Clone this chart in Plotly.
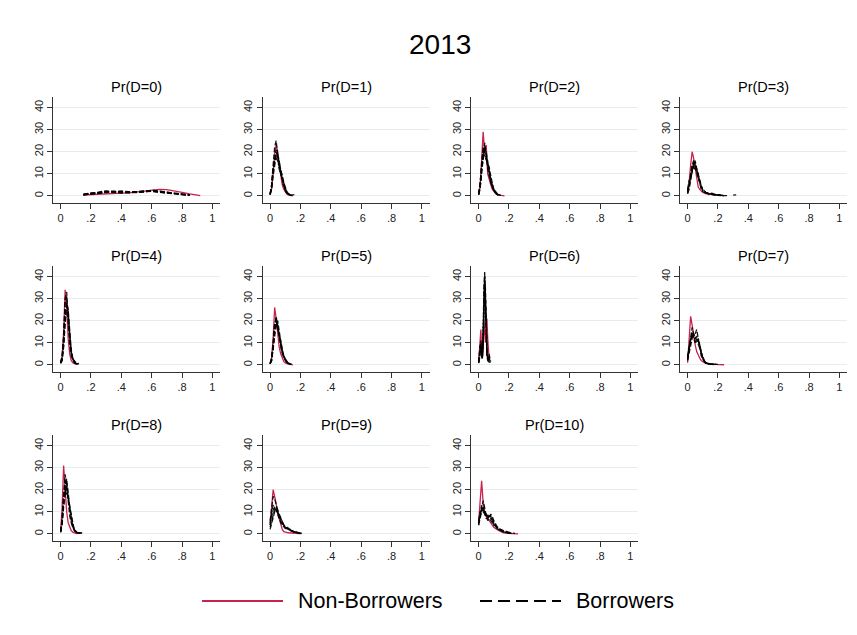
import plotly.graph_objects as go

# ---------------------------------------------------------------------------
# Kernel density estimates of predicted Pr(D=k), 2013
# One curve for non-borrowers, several (one per replicate) for borrowers.
# ---------------------------------------------------------------------------

PANEL_TITLES = ["Pr(D=0)", "Pr(D=1)", "Pr(D=2)", "Pr(D=3)", "Pr(D=4)", "Pr(D=5)",
                "Pr(D=6)", "Pr(D=7)", "Pr(D=8)", "Pr(D=9)", "Pr(D=10)"]

X_TICKS = [0, 0.2, 0.4, 0.6, 0.8, 1]
X_TICK_LABELS = ["0", ".2", ".4", ".6", ".8", "1"]
Y_TICKS = [0, 10, 20, 30, 40]

# D = 0
X_D0 = [0.15, 0.2, 0.25, 0.3, 0.35, 0.4, 0.45, 0.5, 0.55, 0.6, 0.65, 0.7, 0.75, 0.8, 0.85, 0.9, 0.92]
NB_D0 = [0.4, 0.5, 0.6, 0.8, 1.0, 1.2, 1.4, 1.7, 2.1, 2.6, 2.9, 2.8, 2.3, 1.6, 0.9, 0.3, 0.1]
B_D0 = [
    [0.6, 1.0, 1.5, 2.0, 1.8, 1.5, 1.6, 1.8, 2.0, 2.4, 2.1, 1.6, 1.1, 0.7, 0.4, None, None],
    [0.8, 1.3, 1.2, 1.6, 2.1, 1.9, 1.7, 1.6, 1.9, 2.2, 1.8, 1.3, 0.9, 0.6, 0.3, None, None],
    [0.5, 0.9, 1.4, 1.8, 1.5, 1.3, 1.5, 1.9, 2.3, 2.0, 1.5, 1.2, 1.0, 0.5, 0.2, None, None],
    [0.7, 1.1, 1.7, 2.3, 2.0, 1.6, 1.4, 1.5, 1.7, 2.6, 2.3, 1.7, 1.2, 0.8, 0.5, None, None],
    [0.4, 0.8, 1.1, 1.5, 1.9, 2.2, 1.9, 1.7, 1.8, 2.1, 1.9, 1.5, 1.0, 0.6, 0.3, None, None],
]

# D = 1
X_D1 = [0, .01, .02, .03, .04, .05, .06, .07, .08, .09, .10, .11, .12, .13, .14, .15, .16]
NB_D1 = [0.5, 3, 10, 19, 23, 20, 14, 9, 5, 3, 1.6, 0.9, 0.5, 0.3, 0.1, 0.05, None]
B_D1 = [
    [0.8, 5, 14, 22, 25, 19, 13, 10, 7, 4, 2.2, 1.2, 0.7, 0.4, 0.3, 0.5, 0.6],
    [0.6, 4, 11, 17, 20, 18, 15, 12, 8, 5, 3, 1.5, 0.8, 0.5, 0.3, None, None],
    [1.0, 5, 12, 16, 17, 16, 14, 12, 9, 6, 3.5, 2, 1, 0.5, 0.3, None, None],
    [0.7, 4, 12, 18, 21, 17, 12, 10, 8, 5, 3, 1.6, 0.9, 0.4, 0.2, 0.3, None],
    [0.5, 3, 9, 15, 18, 19, 16, 11, 7, 4, 2.5, 1.3, 0.6, 0.3, 0.1, None, None],
]

# D = 2
X_D2 = [0, .01, .02, .03, .04, .05, .06, .07, .08, .09, .10, .11, .12, .13, .14, .15, .16, .17]
NB_D2 = [0.5, 4, 16, 29, 20, 23, 10, 7, 5, 3, 2, 1.2, 0.8, 0.5, 0.3, 0.2, 0.1, 0.05]
B_D2 = [
    [0.8, 5, 15, 22, 20, 17, 14, 10, 7, 5, 3, 2, 1, 0.5, 0.3, None, None, None],
    [0.6, 4, 12, 19, 23, 19, 14, 10, 6, 4, 2.5, 1.5, 0.8, 0.4, 0.2, None, None, None],
    [1.0, 6, 14, 20, 18, 16, 14, 13, 9, 6, 3, 1.6, 0.8, 0.4, None, None, None, None],
    [0.7, 4, 11, 17, 21, 20, 15, 11, 7, 4, 2.5, 1.3, 0.6, 0.3, None, None, None, None],
    [0.5, 3, 10, 20, 24, 18, 12, 9, 6, 4, 2.5, 1.6, 1.0, 0.5, 0.3, 0.2, None, None],
]

# D = 3
X_D3 = [0, .01, .02, .03, .04, .05, .06, .07, .08, .09, .10, .12, .14, .16, .18, .20, .22, .24,
        .26, .28, .30, .32, .34]
NB_D3 = [1, 6, 14, 20, 17, 12, 7, 4, 3, 2.2, 1.5, 1.0, 0.6, 0.8, 0.5, 0.3, 0.2, 0.1,
         None, None, None, None, None]
B_D3 = [
    [2, 5, 9, 14, 16, 14, 11, 8, 5, 3, 2, 1.2, 0.8, 1.0, 0.6, 0.3, 0.2, 0.1, None, None, None, None, None],
    [1.5, 4, 8, 12, 15, 15, 13, 10, 7, 4, 2.5, 1.5, 1.0, 0.7, 0.5, 0.4, 0.3, 0.2, None, None, None, None, None],
    [3, 7, 8, 11, 14, 16, 12, 9, 6, 4, 2.6, 1.4, 0.9, 1.2, 0.7, 0.4, 0.3, None, None, None, None, None, None],
    [2, 5, 10, 14, 13, 12, 12, 10, 7, 4.5, 3, 1.6, 1.1, 0.8, 0.4, 0.2, 0.1, 0.1, 0.1, None, None, None, None],
    [1, 3, 7, 12, 15, 13, 10, 8, 6, 4, 2.5, 1.5, 0.9, 0.6, 0.4, 0.3, None, None, None, None, 0.3, 0.5, None],
]

# D = 4
X_D4 = [0, .01, .02, .03, .04, .05, .06, .07, .08, .09, .10, .11, .12]
NB_D4 = [1, 4, 15, 34, 26, 12, 5, 2, 1, 0.5, 0.3, 0.2, None]
B_D4 = [
    [1, 3, 12, 30, 33, 20, 9, 4, 2, 1, 0.6, 0.4, 0.3],
    [0.8, 2, 9, 22, 27, 24, 14, 6, 3, 1.5, 0.8, 0.5, 0.7],
    [1.2, 3, 10, 25, 24, 20, 12, 6, 3, 1.5, 0.8, 0.4, None],
    [0.6, 2, 8, 20, 28, 25, 15, 7, 3, 1.5, 0.7, 0.3, None],
    [1, 4, 13, 28, 31, 22, 10, 5, 2.5, 1.2, 0.7, 0.5, 0.8],
]

# D = 5
X_D5 = [0, .01, .02, .03, .04, .05, .06, .07, .08, .09, .10, .11, .12, .13, .14, .15]
NB_D5 = [0.5, 3, 12, 26, 21, 14, 8, 5, 3, 1.6, 0.9, 0.5, 0.3, 0.2, 0.1, 0.05]
B_D5 = [
    [0.5, 2, 8, 17, 21, 18, 13, 9, 6, 4, 2.5, 1.3, 0.7, 0.4, 0.2, None],
    [0.7, 3, 10, 19, 20, 16, 12, 8, 6, 4, 2.5, 1.5, 0.8, 0.5, 0.3, None],
    [0.4, 2, 7, 14, 18, 20, 15, 10, 6, 3.5, 2, 1.2, 0.7, 0.3, None, None],
    [0.6, 3, 9, 16, 19, 17, 14, 11, 7, 4, 2.5, 1.5, 0.9, 0.5, 0.4, None],
    [0.5, 2, 8, 18, 22, 17, 12, 8, 5, 3, 2, 1, 0.5, 0.3, None, None],
]

# D = 6
X_D6 = [0, .005, .01, .015, .02, .025, .03, .035, .04, .045, .05, .055, .06, .065, .07, .075, .08]
NB_D6 = [1, 5, 12, 16, 6, 3, 8, 20, 15, 10, 14, 21, 12, 5, 2, None, None]
B_D6 = [
    [1, 3, 6, 10, 5, 3, 10, 28, 42, 30, 12, 5, 3, 2, 3, 1.5, None],
    [1.5, 4, 8, 7, 3, 4, 14, 32, 40, 26, 10, 4, 2, 1.5, 2, 1, None],
    [0.8, 2, 5, 9, 6, 5, 12, 25, 38, 35, 16, 6, 3, 2, 4, 2, 1.5],
    [1, 3, 7, 11, 4, 3, 9, 22, 36, 32, 18, 8, 4, 2, 2, 1, None],
    [1.2, 4, 9, 8, 5, 6, 15, 35, 41, 28, 11, 5, 2.5, 3, 5, 2, None],
]

# D = 7
X_D7 = [0, .01, .02, .03, .04, .05, .06, .07, .08, .09, .10, .11, .12, .14, .16, .18, .20, .22, .24, .26]
NB_D7 = [1, 10, 22, 18, 13, 9, 6, 4, 3, 2, 1.4, 1.0, 0.7, 0.4, 0.3, 0.2, 0.2, 0.1, 0.05, None]
B_D7 = [
    [3, 8, 14, 17, 14, 11, 10, 12, 9, 5, 3, 1.5, 0.8, 0.4, 0.3, 0.2, 0.3, None, None, None],
    [2, 6, 11, 13, 12, 12, 13, 11, 8, 5, 3, 1.6, 1.0, 0.5, 0.3, 0.2, None, None, None, None],
    [4, 9, 12, 12, 14, 13, 11, 10, 8, 5, 3.5, 2, 1, 0.5, 0.2, None, None, None, None, None],
    [2, 5, 8, 12, 13, 14, 16, 12, 7, 4, 2.5, 1.5, 0.8, 0.4, 0.3, 0.2, 0.2, None, None, None],
    [3, 7, 13, 15, 12, 10, 11, 11, 9, 6, 3, 1.7, 0.9, 0.4, 0.2, 0.1, None, None, None, None],
]

# D = 8
X_D8 = [0, .01, .02, .03, .04, .05, .06, .07, .08, .09, .10, .11, .12, .13, .14, .15]
NB_D8 = [1, 12, 31, 20, 10, 5, 3, 1.5, 0.8, 0.4, 0.2, 0.1, None, None, None, None]
B_D8 = [
    [1, 6, 18, 27, 22, 14, 8, 5, 3, 1.5, 0.8, 0.4, 0.3, 0.4, 0.5, None],
    [0.8, 5, 14, 22, 25, 18, 11, 6, 3, 1.6, 0.8, 0.4, 0.3, 0.4, None, None],
    [1.2, 7, 16, 20, 18, 16, 12, 8, 4, 2, 1, 0.5, 0.3, None, None, None],
    [1, 5, 15, 24, 20, 16, 10, 6, 3.5, 2, 1, 0.5, 0.4, 0.5, 0.6, 0.5],
    [0.7, 4, 12, 19, 23, 17, 12, 7, 4, 2, 1, 0.5, 0.3, None, None, None],
]

# D = 9
X_D9 = [0, .01, .02, .03, .04, .05, .06, .07, .08, .09, .10, .12, .14, .16, .18, .20, .21]
NB_D9 = [4, 14, 20, 17, 13, 10, 7, 4, 2, 1, 0.8, 0.5, 0.4, 0.3, 0.2, 0.1, None]
B_D9 = [
    [6, 12, 17, 16, 13, 10, 7, 5, 4, 3, 2.5, 2, 1.5, 1, 0.5, 0.3, 0.2],
    [4, 8, 11, 12, 11, 10, 8, 6, 5, 4, 3.5, 2.5, 1.6, 0.8, 0.5, 0.2, None],
    [3, 6, 9, 11, 12, 11, 9, 7, 6, 4, 3, 2, 1.2, 0.8, 0.4, 0.2, None],
    [5, 10, 13, 12, 10, 9, 7, 6, 4.5, 3.5, 3, 2.2, 1.4, 0.7, 0.3, 0.1, None],
    [2, 5, 8, 10, 11, 9, 8, 7, 5, 4, 3, 2, 1.3, 0.9, 0.5, 0.3, 0.2],
]

# D = 10
X_D10 = [0, .01, .02, .03, .04, .05, .06, .07, .08, .09, .10, .12, .14, .16, .18, .20, .22, .24, .26]
NB_D10 = [5, 16, 24, 14, 9, 8, 7, 6, 5, 4, 3, 2, 1.2, 0.6, 0.3, 0.2, 0.1, 0.05, 0.02]
B_D10 = [
    [5, 9, 11, 12, 10, 8, 7, 8, 8, 7, 5, 3, 1.6, 1, 0.6, 0.4, 0.2, None, None],
    [4, 8, 12, 15, 12, 8, 6, 7, 9, 8, 6, 3.5, 2, 1.2, 0.7, 0.4, None, None, None],
    [6, 10, 11, 10, 9, 7, 7, 8, 7, 6, 5, 3, 2, 1.5, 1, 0.5, 0.3, None, None],
    [5, 9, 13, 11, 9, 8, 8, 9, 8, 6, 4, 2.5, 1.5, 1, 0.6, 0.3, 0.2, None, None],
    [4, 7, 10, 11, 10, 9, 8, 7, 6, 5, 4, 3, 2, 1.4, 0.8, 0.5, 0.3, 0.2, None],
]

PANELS = [
    (X_D0, NB_D0, B_D0), (X_D1, NB_D1, B_D1), (X_D2, NB_D2, B_D2), (X_D3, NB_D3, B_D3),
    (X_D4, NB_D4, B_D4), (X_D5, NB_D5, B_D5), (X_D6, NB_D6, B_D6), (X_D7, NB_D7, B_D7),
    (X_D8, NB_D8, B_D8), (X_D9, NB_D9, B_D9), (X_D10, NB_D10, B_D10),
]

# ---------------------------------------------------------------------------
W, H = 857, 635
FONT = "Liberation Sans, Arial, sans-serif"
RED = "#c8234d"
GRID = "#e4eef0"
AXIS = "#333333"

COL_LEFT = [53, 262.5, 471, 680]   # pixel left edge of each column's plot area
COL_W = 167
ROW_TOP = [96.5, 265.5, 434.5]     # pixel top edge of each row's plot area
ROW_H = 106

fig = go.Figure()
layout = dict(
    width=W, height=H,
    margin=dict(l=0, r=0, t=0, b=0),
    paper_bgcolor="white", plot_bgcolor="white",
    showlegend=False,
    font=dict(family=FONT, color="black"),
)
annotations = []
shapes = []

for i, (xs, nb, bs) in enumerate(PANELS):
    r, c = divmod(i, 4)
    n = i + 1
    xa = "x" if n == 1 else f"x{n}"
    ya = "y" if n == 1 else f"y{n}"
    x0 = COL_LEFT[c] / W
    x1 = (COL_LEFT[c] + COL_W) / W
    y1 = 1 - ROW_TOP[r] / H
    y0 = 1 - (ROW_TOP[r] + ROW_H) / H

    layout["xaxis" if n == 1 else f"xaxis{n}"] = dict(
        domain=[x0, x1], anchor=ya, range=[-0.05, 1.05],
        tickvals=X_TICKS, ticktext=X_TICK_LABELS,
        ticks="outside", ticklen=5, tickcolor=AXIS, tickwidth=1,
        showline=True, linecolor=AXIS, linewidth=1,
        showgrid=False, zeroline=False,
        tickfont=dict(size=11, color="#222222", family=FONT),
    )
    layout["yaxis" if n == 1 else f"yaxis{n}"] = dict(
        domain=[y0, y1], anchor=xa, range=[-3, 45],
        tickvals=Y_TICKS, tickangle=-90,
        ticks="outside", ticklen=5, tickcolor=AXIS, tickwidth=1,
        showline=True, linecolor=AXIS, linewidth=1,
        showgrid=True, gridcolor=GRID, gridwidth=1, zeroline=False,
        tickfont=dict(size=11, color="#222222", family=FONT),
    )

    fig.add_trace(go.Scatter(
        x=xs, y=nb, xaxis=xa, yaxis=ya, mode="lines",
        line=dict(color=RED, width=1.3), connectgaps=False,
        name="Non-Borrowers", hoverinfo="skip",
    ))
    for b in bs:
        fig.add_trace(go.Scatter(
            x=xs, y=b, xaxis=xa, yaxis=ya, mode="lines",
            line=dict(color="black", width=1.3, dash="5px,2px"), connectgaps=False,
            name="Borrowers", hoverinfo="skip", opacity=0.9,
        ))

    annotations.append(dict(
        text=PANEL_TITLES[i], xref="paper", yref="paper",
        x=(x0 + x1) / 2, y=1 - (ROW_TOP[r] - 9.5) / H,
        xanchor="center", yanchor="middle", showarrow=False,
        font=dict(size=14.5, color="black", family=FONT),
    ))

# Overall title
annotations.append(dict(
    text="2013", xref="paper", yref="paper", x=440 / W, y=1 - 45 / H,
    xanchor="center", yanchor="middle", showarrow=False,
    font=dict(size=28, color="black", family=FONT),
))

# Legend keys and labels
LEG_Y = 1 - 601 / H
shapes.append(dict(type="line", xref="paper", yref="paper",
                   x0=202 / W, x1=283 / W, y0=LEG_Y, y1=LEG_Y,
                   line=dict(color=RED, width=2)))
shapes.append(dict(type="line", xref="paper", yref="paper",
                   x0=480 / W, x1=561 / W, y0=LEG_Y, y1=LEG_Y,
                   line=dict(color="black", width=2, dash="12px,6px")))
annotations.append(dict(
    text="Non-Borrowers", xref="paper", yref="paper", x=296 / W, y=LEG_Y,
    xanchor="left", yanchor="middle", showarrow=False,
    font=dict(size=21.5, color="black", family=FONT),
))
annotations.append(dict(
    text="Borrowers", xref="paper", yref="paper", x=574 / W, y=LEG_Y,
    xanchor="left", yanchor="middle", showarrow=False,
    font=dict(size=21.5, color="black", family=FONT),
))

layout["annotations"] = annotations
layout["shapes"] = shapes
fig.update_layout(**layout)

fig.write_html("out.html")
